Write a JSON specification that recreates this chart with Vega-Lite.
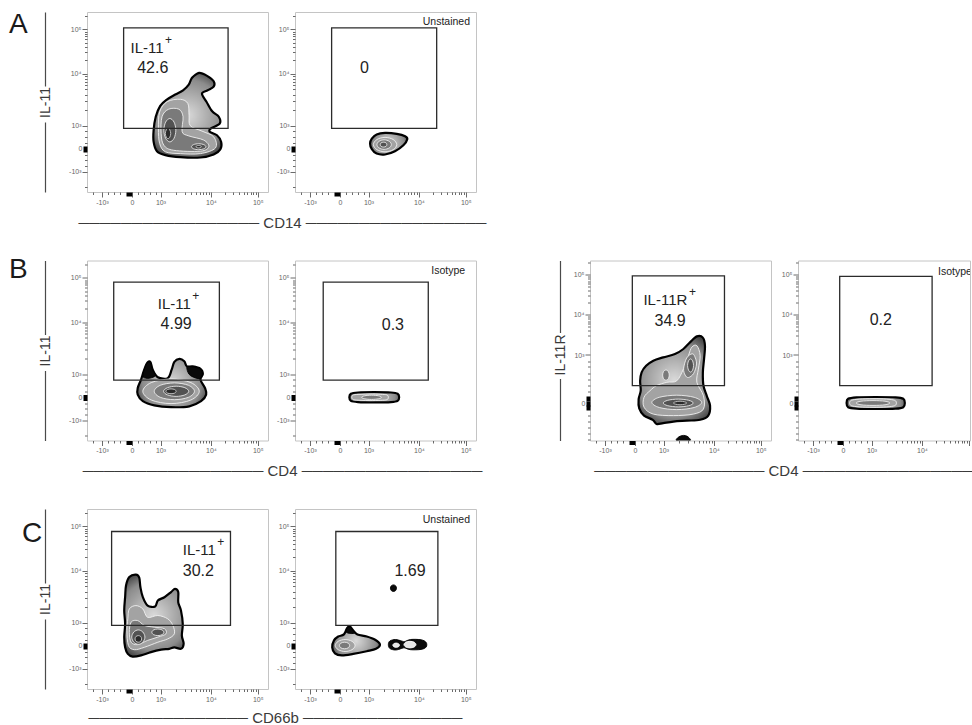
{
"$schema":"https://vega.github.io/schema/vega-lite/v6.json",
"background":"white",
"padding":{"left":8,"top":10,"right":0,"bottom":0},
"config":{
 "view":{"stroke":"#c4c4c4","strokeWidth":1},
 "font":"Liberation Sans",
 "axis":{"domain":false,"grid":false,"labelFont":"Liberation Sans, DejaVu Sans","labelFontSize":7,"labelColor":"#666","labelPadding":1,"labelOverlap":false,"labelFlush":false,"labelBound":false,"titleFont":"Liberation Sans, DejaVu Sans","titleFontSize":15,"titleFontWeight":"normal","titleColor":"#3a3a3a","titleLimit":2000},
 "text":{"font":"Liberation Sans, DejaVu Sans","color":"#222"}
},
"datasets":{
"A1":[
{"l":1,"p":"o","i":0,"x":2.03,"y":2.39},{"l":1,"p":"o","i":1,"x":2.24,"y":2.52},{"l":1,"p":"o","i":2,"x":2.5,"y":2.42},{"l":1,"p":"o","i":3,"x":2.72,"y":2.24},{"l":1,"p":"o","i":4,"x":2.72,"y":2.06},{"l":1,"p":"o","i":5,"x":2.52,"y":1.94},{"l":1,"p":"o","i":6,"x":2.33,"y":1.83},{"l":1,"p":"o","i":7,"x":2.48,"y":1.56},{"l":1,"p":"o","i":8,"x":2.67,"y":1.24},{"l":1,"p":"o","i":9,"x":2.89,"y":1.06},{"l":1,"p":"o","i":10,"x":2.92,"y":0.83},{"l":1,"p":"o","i":11,"x":2.63,"y":0.67},{"l":1,"p":"o","i":12,"x":2.59,"y":0.56},{"l":1,"p":"o","i":13,"x":2.83,"y":0.44},{"l":1,"p":"o","i":14,"x":2.97,"y":0.22},{"l":1,"p":"o","i":15,"x":2.94,"y":-0.03},{"l":1,"p":"o","i":16,"x":2.72,"y":-0.2},{"l":1,"p":"o","i":17,"x":2.28,"y":-0.3},{"l":1,"p":"o","i":18,"x":1.61,"y":-0.29},{"l":1,"p":"o","i":19,"x":1.11,"y":-0.22},{"l":1,"p":"o","i":20,"x":0.83,"y":-0.09},{"l":1,"p":"o","i":21,"x":0.72,"y":0.22},{"l":1,"p":"o","i":22,"x":0.72,"y":0.61},{"l":1,"p":"o","i":23,"x":0.79,"y":1.06},{"l":1,"p":"o","i":24,"x":0.94,"y":1.42},{"l":1,"p":"o","i":25,"x":1.17,"y":1.64},{"l":1,"p":"o","i":26,"x":1.44,"y":1.8},{"l":1,"p":"o","i":27,"x":1.7,"y":1.94},{"l":1,"p":"o","i":28,"x":1.89,"y":2.13},{"l":1,"p":"o","i":29,"x":1.97,"y":2.31},
{"l":2,"p":"b","i":0,"x":0.92,"y":1.22},{"l":2,"p":"b","i":1,"x":1.17,"y":1.56},{"l":2,"p":"b","i":2,"x":1.61,"y":1.64},{"l":2,"p":"b","i":3,"x":1.86,"y":1.5},{"l":2,"p":"b","i":4,"x":1.9,"y":1.11},{"l":2,"p":"b","i":5,"x":1.94,"y":0.76},{"l":2,"p":"b","i":6,"x":2.33,"y":0.58},{"l":2,"p":"b","i":7,"x":2.72,"y":0.39},{"l":2,"p":"b","i":8,"x":2.78,"y":0.02},{"l":2,"p":"b","i":9,"x":2.28,"y":-0.17},{"l":2,"p":"b","i":10,"x":1.61,"y":-0.17},{"l":2,"p":"b","i":11,"x":1.11,"y":-0.11},{"l":2,"p":"b","i":12,"x":0.92,"y":0.17},{"l":2,"p":"b","i":13,"x":0.88,"y":0.67},
{"l":3,"p":"c","i":0,"x":1.0,"y":1.06},{"l":3,"p":"c","i":1,"x":1.22,"y":1.31},{"l":3,"p":"c","i":2,"x":1.56,"y":1.31},{"l":3,"p":"c","i":3,"x":1.7,"y":1.06},{"l":3,"p":"c","i":4,"x":1.67,"y":0.56},{"l":3,"p":"c","i":5,"x":1.89,"y":0.42},{"l":3,"p":"c","i":6,"x":2.39,"y":0.28},{"l":3,"p":"c","i":7,"x":2.56,"y":0.06},{"l":3,"p":"c","i":8,"x":2.28,"y":-0.09},{"l":3,"p":"c","i":9,"x":1.39,"y":-0.06},{"l":3,"p":"c","i":10,"x":1.06,"y":0.11},{"l":3,"p":"c","i":11,"x":0.97,"y":0.5},
{"l":4,"p":"d","i":0,"x":1.46,"y":0.61},{"l":4,"p":"d","i":1,"x":1.4,"y":0.88},{"l":4,"p":"d","i":2,"x":1.26,"y":1.0},{"l":4,"p":"d","i":3,"x":1.12,"y":0.88},{"l":4,"p":"d","i":4,"x":1.06,"y":0.61},{"l":4,"p":"d","i":5,"x":1.12,"y":0.34},{"l":4,"p":"d","i":6,"x":1.26,"y":0.22},{"l":4,"p":"d","i":7,"x":1.4,"y":0.34},
{"l":4,"p":"e","i":0,"x":2.46,"y":0.06},{"l":4,"p":"e","i":1,"x":2.39,"y":0.13},{"l":4,"p":"e","i":2,"x":2.22,"y":0.16},{"l":4,"p":"e","i":3,"x":2.05,"y":0.13},{"l":4,"p":"e","i":4,"x":1.98,"y":0.06},{"l":4,"p":"e","i":5,"x":2.05,"y":-0.01},{"l":4,"p":"e","i":6,"x":2.22,"y":-0.04},{"l":4,"p":"e","i":7,"x":2.39,"y":-0.01},
{"l":5,"p":"f","i":0,"x":1.29,"y":0.5},{"l":5,"p":"f","i":1,"x":1.26,"y":0.62},{"l":5,"p":"f","i":2,"x":1.2,"y":0.67},{"l":5,"p":"f","i":3,"x":1.14,"y":0.62},{"l":5,"p":"f","i":4,"x":1.11,"y":0.5},{"l":5,"p":"f","i":5,"x":1.14,"y":0.38},{"l":5,"p":"f","i":6,"x":1.2,"y":0.33},{"l":5,"p":"f","i":7,"x":1.26,"y":0.38},
{"l":5,"p":"g","i":0,"x":2.31,"y":0.06},{"l":5,"p":"g","i":1,"x":2.28,"y":0.09},{"l":5,"p":"g","i":2,"x":2.22,"y":0.1},{"l":5,"p":"g","i":3,"x":2.16,"y":0.09},{"l":5,"p":"g","i":4,"x":2.13,"y":0.06},{"l":5,"p":"g","i":5,"x":2.16,"y":0.03},{"l":5,"p":"g","i":6,"x":2.22,"y":0.02},{"l":5,"p":"g","i":7,"x":2.28,"y":0.03},
{"k":"g","x":-0.28,"x2":3.2,"y":0.67,"y2":4.02},
{"k":"n","x":-0.05,"y":3.35,"t":"IL-11"},
{"k":"s","x":1.1,"y":3.62,"t":"+"},
{"k":"v","x":0.69,"y":2.67,"t":"42.6"}
],
"A2":[
{"l":1,"p":"o","i":0,"x":1.06,"y":0.33},{"l":1,"p":"o","i":1,"x":1.22,"y":0.47},{"l":1,"p":"o","i":2,"x":1.5,"y":0.52},{"l":1,"p":"o","i":3,"x":1.89,"y":0.49},{"l":1,"p":"o","i":4,"x":2.17,"y":0.41},{"l":1,"p":"o","i":5,"x":2.24,"y":0.31},{"l":1,"p":"o","i":6,"x":2.11,"y":0.11},{"l":1,"p":"o","i":7,"x":1.83,"y":-0.09},{"l":1,"p":"o","i":8,"x":1.5,"y":-0.2},{"l":1,"p":"o","i":9,"x":1.22,"y":-0.17},{"l":1,"p":"o","i":10,"x":1.06,"y":-0.02},{"l":1,"p":"o","i":11,"x":1.0,"y":0.17},
{"l":2,"p":"b","i":0,"x":1.89,"y":0.13},{"l":2,"p":"b","i":1,"x":1.77,"y":0.3},{"l":2,"p":"b","i":2,"x":1.5,"y":0.37},{"l":2,"p":"b","i":3,"x":1.23,"y":0.3},{"l":2,"p":"b","i":4,"x":1.11,"y":0.13},{"l":2,"p":"b","i":5,"x":1.23,"y":-0.04},{"l":2,"p":"b","i":6,"x":1.5,"y":-0.11},{"l":2,"p":"b","i":7,"x":1.77,"y":-0.04},
{"l":3,"p":"c","i":0,"x":1.71,"y":0.13},{"l":3,"p":"c","i":1,"x":1.64,"y":0.24},{"l":3,"p":"c","i":2,"x":1.47,"y":0.29},{"l":3,"p":"c","i":3,"x":1.3,"y":0.24},{"l":3,"p":"c","i":4,"x":1.23,"y":0.13},{"l":3,"p":"c","i":5,"x":1.3,"y":0.02},{"l":3,"p":"c","i":6,"x":1.47,"y":-0.03},{"l":3,"p":"c","i":7,"x":1.64,"y":0.02},
{"l":4,"p":"d","i":0,"x":1.56,"y":0.13},{"l":4,"p":"d","i":1,"x":1.53,"y":0.19},{"l":4,"p":"d","i":2,"x":1.45,"y":0.21},{"l":4,"p":"d","i":3,"x":1.37,"y":0.19},{"l":4,"p":"d","i":4,"x":1.34,"y":0.13},{"l":4,"p":"d","i":5,"x":1.37,"y":0.07},{"l":4,"p":"d","i":6,"x":1.45,"y":0.05},{"l":4,"p":"d","i":7,"x":1.53,"y":0.07},
{"k":"g","x":-0.28,"x2":3.22,"y":0.67,"y2":4.02},
{"k":"v","x":0.81,"y":2.67,"t":"0"},
{"k":"u","x":4.33,"y":4.22,"t":"Unstained"}
],
"B1":[
{"l":1,"p":"o","i":0,"x":0.19,"y":0.3},{"l":1,"p":"o","i":1,"x":0.3,"y":0.58},{"l":1,"p":"o","i":2,"x":0.39,"y":0.86},{"l":1,"p":"o","i":3,"x":0.5,"y":1.13},{"l":1,"p":"o","i":4,"x":0.61,"y":1.17},{"l":1,"p":"o","i":5,"x":0.69,"y":0.91},{"l":1,"p":"o","i":6,"x":0.86,"y":0.66},{"l":1,"p":"o","i":7,"x":1.19,"y":0.63},{"l":1,"p":"o","i":8,"x":1.32,"y":0.91},{"l":1,"p":"o","i":9,"x":1.41,"y":1.17},{"l":1,"p":"o","i":10,"x":1.58,"y":1.27},{"l":1,"p":"o","i":11,"x":1.74,"y":1.19},{"l":1,"p":"o","i":12,"x":1.83,"y":1.02},{"l":1,"p":"o","i":13,"x":2.02,"y":1.02},{"l":1,"p":"o","i":14,"x":2.28,"y":0.94},{"l":1,"p":"o","i":15,"x":2.36,"y":0.77},{"l":1,"p":"o","i":16,"x":2.28,"y":0.58},{"l":1,"p":"o","i":17,"x":2.43,"y":0.3},{"l":1,"p":"o","i":18,"x":2.47,"y":0.08},{"l":1,"p":"o","i":19,"x":2.3,"y":-0.14},{"l":1,"p":"o","i":20,"x":1.91,"y":-0.31},{"l":1,"p":"o","i":21,"x":1.3,"y":-0.34},{"l":1,"p":"o","i":22,"x":0.74,"y":-0.28},{"l":1,"p":"o","i":23,"x":0.36,"y":-0.14},{"l":1,"p":"o","i":24,"x":0.19,"y":0.08},
{"l":2,"p":"b","i":0,"x":2.24,"y":0.19},{"l":2,"p":"b","i":1,"x":1.96,"y":0.48},{"l":2,"p":"b","i":2,"x":1.3,"y":0.6},{"l":2,"p":"b","i":3,"x":0.64,"y":0.48},{"l":2,"p":"b","i":4,"x":0.36,"y":0.19},{"l":2,"p":"b","i":5,"x":0.64,"y":-0.1},{"l":2,"p":"b","i":6,"x":1.3,"y":-0.22},{"l":2,"p":"b","i":7,"x":1.96,"y":-0.1},
{"l":3,"p":"c","i":0,"x":2.08,"y":0.19},{"l":3,"p":"c","i":1,"x":1.88,"y":0.39},{"l":3,"p":"c","i":2,"x":1.41,"y":0.47},{"l":3,"p":"c","i":3,"x":0.94,"y":0.39},{"l":3,"p":"c","i":4,"x":0.74,"y":0.19},{"l":3,"p":"c","i":5,"x":0.94,"y":-0.01},{"l":3,"p":"c","i":6,"x":1.41,"y":-0.09},{"l":3,"p":"c","i":7,"x":1.88,"y":-0.01},
{"l":4,"p":"d","i":0,"x":1.89,"y":0.19},{"l":4,"p":"d","i":1,"x":1.76,"y":0.31},{"l":4,"p":"d","i":2,"x":1.47,"y":0.36},{"l":4,"p":"d","i":3,"x":1.18,"y":0.31},{"l":4,"p":"d","i":4,"x":1.05,"y":0.19},{"l":4,"p":"d","i":5,"x":1.18,"y":0.07},{"l":4,"p":"d","i":6,"x":1.47,"y":0.02},{"l":4,"p":"d","i":7,"x":1.76,"y":0.07},
{"l":5,"p":"f","i":0,"x":1.47,"y":0.19},{"l":5,"p":"f","i":1,"x":1.42,"y":0.25},{"l":5,"p":"f","i":2,"x":1.3,"y":0.27},{"l":5,"p":"f","i":3,"x":1.18,"y":0.25},{"l":5,"p":"f","i":4,"x":1.13,"y":0.19},{"l":5,"p":"f","i":5,"x":1.18,"y":0.13},{"l":5,"p":"f","i":6,"x":1.3,"y":0.11},{"l":5,"p":"f","i":7,"x":1.42,"y":0.13},
{"l":8,"p":"k","i":0,"x":0.36,"y":0.7},{"l":8,"p":"k","i":1,"x":0.42,"y":0.95},{"l":8,"p":"k","i":2,"x":0.5,"y":1.12},{"l":8,"p":"k","i":3,"x":0.6,"y":1.15},{"l":8,"p":"k","i":4,"x":0.68,"y":0.91},{"l":8,"p":"k","i":5,"x":0.78,"y":0.72},{"l":8,"p":"k","i":6,"x":0.6,"y":0.63},{"l":8,"p":"k","i":7,"x":0.45,"y":0.63},
{"l":8,"p":"m","i":0,"x":1.83,"y":1.0},{"l":8,"p":"m","i":1,"x":2.02,"y":1.0},{"l":8,"p":"m","i":2,"x":2.27,"y":0.93},{"l":8,"p":"m","i":3,"x":2.34,"y":0.77},{"l":8,"p":"m","i":4,"x":2.27,"y":0.62},{"l":8,"p":"m","i":5,"x":2.1,"y":0.64},{"l":8,"p":"m","i":6,"x":1.9,"y":0.76},
{"k":"g","x":-0.61,"x2":2.91,"y":0.56,"y2":3.83},
{"k":"n","x":0.86,"y":3.1,"t":"IL-11"},
{"k":"s","x":2.01,"y":3.37,"t":"+"},
{"k":"v","x":1.47,"y":2.43,"t":"4.99"}
],
"B2":[
{"l":1,"p":"o","i":0,"x":0.31,"y":-0.01},{"l":1,"p":"o","i":1,"x":0.36,"y":0.11},{"l":1,"p":"o","i":2,"x":0.6,"y":0.15},{"l":1,"p":"o","i":3,"x":1.14,"y":0.16},{"l":1,"p":"o","i":4,"x":1.7,"y":0.15},{"l":1,"p":"o","i":5,"x":1.92,"y":0.11},{"l":1,"p":"o","i":6,"x":1.97,"y":-0.01},{"l":1,"p":"o","i":7,"x":1.92,"y":-0.13},{"l":1,"p":"o","i":8,"x":1.7,"y":-0.17},{"l":1,"p":"o","i":9,"x":1.14,"y":-0.18},{"l":1,"p":"o","i":10,"x":0.6,"y":-0.17},{"l":1,"p":"o","i":11,"x":0.36,"y":-0.13},
{"l":2,"p":"b","i":0,"x":0.39,"y":-0.01},{"l":2,"p":"b","i":1,"x":0.45,"y":0.07},{"l":2,"p":"b","i":2,"x":0.7,"y":0.09},{"l":2,"p":"b","i":3,"x":1.0,"y":0.1},{"l":2,"p":"b","i":4,"x":1.35,"y":0.09},{"l":2,"p":"b","i":5,"x":1.56,"y":0.07},{"l":2,"p":"b","i":6,"x":1.61,"y":-0.01},{"l":2,"p":"b","i":7,"x":1.56,"y":-0.09},{"l":2,"p":"b","i":8,"x":1.35,"y":-0.11},{"l":2,"p":"b","i":9,"x":1.0,"y":-0.12},{"l":2,"p":"b","i":10,"x":0.7,"y":-0.11},{"l":2,"p":"b","i":11,"x":0.45,"y":-0.09},
{"l":3,"p":"c","i":0,"x":1.38,"y":-0.01},{"l":3,"p":"c","i":1,"x":1.28,"y":0.04},{"l":3,"p":"c","i":2,"x":1.05,"y":0.06},{"l":3,"p":"c","i":3,"x":0.82,"y":0.04},{"l":3,"p":"c","i":4,"x":0.72,"y":-0.01},{"l":3,"p":"c","i":5,"x":0.82,"y":-0.06},{"l":3,"p":"c","i":6,"x":1.05,"y":-0.08},{"l":3,"p":"c","i":7,"x":1.28,"y":-0.06},
{"k":"g","x":-0.56,"x2":2.94,"y":0.56,"y2":3.83},
{"k":"v","x":1.76,"y":2.41,"t":"0.3"},
{"k":"u","x":4.17,"y":4.19,"t":"Isotype"}
],
"B3":[
{"l":1,"p":"o","i":0,"x":2.06,"y":2.22},{"l":1,"p":"o","i":1,"x":2.26,"y":2.18},{"l":1,"p":"o","i":2,"x":2.33,"y":1.91},{"l":1,"p":"o","i":3,"x":2.3,"y":1.47},{"l":1,"p":"o","i":4,"x":2.26,"y":1.02},{"l":1,"p":"o","i":5,"x":2.28,"y":0.58},{"l":1,"p":"o","i":6,"x":2.39,"y":0.24},{"l":1,"p":"o","i":7,"x":2.5,"y":-0.09},{"l":1,"p":"o","i":8,"x":2.44,"y":-0.42},{"l":1,"p":"o","i":9,"x":2.17,"y":-0.56},{"l":1,"p":"o","i":10,"x":1.72,"y":-0.59},{"l":1,"p":"o","i":11,"x":1.28,"y":-0.62},{"l":1,"p":"o","i":12,"x":0.94,"y":-0.67},{"l":1,"p":"o","i":13,"x":0.72,"y":-0.7},{"l":1,"p":"o","i":14,"x":0.59,"y":-0.56},{"l":1,"p":"o","i":15,"x":0.3,"y":-0.42},{"l":1,"p":"o","i":16,"x":0.14,"y":-0.18},{"l":1,"p":"o","i":17,"x":0.12,"y":0.13},{"l":1,"p":"o","i":18,"x":0.19,"y":0.41},{"l":1,"p":"o","i":19,"x":0.17,"y":0.74},{"l":1,"p":"o","i":20,"x":0.22,"y":1.02},{"l":1,"p":"o","i":21,"x":0.37,"y":1.24},{"l":1,"p":"o","i":22,"x":0.61,"y":1.41},{"l":1,"p":"o","i":23,"x":0.94,"y":1.52},{"l":1,"p":"o","i":24,"x":1.33,"y":1.63},{"l":1,"p":"o","i":25,"x":1.61,"y":1.8},{"l":1,"p":"o","i":26,"x":1.83,"y":2.02},
{"l":2,"p":"b","i":0,"x":2.06,"y":1.91},{"l":2,"p":"b","i":1,"x":2.17,"y":1.58},{"l":2,"p":"b","i":2,"x":2.11,"y":1.13},{"l":2,"p":"b","i":3,"x":2.06,"y":0.69},{"l":2,"p":"b","i":4,"x":2.28,"y":0.24},{"l":2,"p":"b","i":5,"x":2.28,"y":-0.2},{"l":2,"p":"b","i":6,"x":1.94,"y":-0.37},{"l":2,"p":"b","i":7,"x":1.28,"y":-0.42},{"l":2,"p":"b","i":8,"x":0.61,"y":-0.37},{"l":2,"p":"b","i":9,"x":0.3,"y":-0.14},{"l":2,"p":"b","i":10,"x":0.3,"y":0.19},{"l":2,"p":"b","i":11,"x":0.5,"y":0.41},{"l":2,"p":"b","i":12,"x":0.72,"y":0.58},{"l":2,"p":"b","i":13,"x":1.06,"y":0.69},{"l":2,"p":"b","i":14,"x":1.39,"y":0.74},{"l":2,"p":"b","i":15,"x":1.61,"y":1.13},{"l":2,"p":"b","i":16,"x":1.78,"y":1.58},{"l":2,"p":"b","i":17,"x":1.89,"y":1.86},
{"l":3,"p":"c","i":0,"x":2.22,"y":0.02},{"l":3,"p":"c","i":1,"x":1.97,"y":0.19},{"l":3,"p":"c","i":2,"x":1.39,"y":0.26},{"l":3,"p":"c","i":3,"x":0.81,"y":0.19},{"l":3,"p":"c","i":4,"x":0.56,"y":0.02},{"l":3,"p":"c","i":5,"x":0.81,"y":-0.15},{"l":3,"p":"c","i":6,"x":1.39,"y":-0.22},{"l":3,"p":"c","i":7,"x":1.97,"y":-0.15},
{"l":3,"p":"h","i":0,"x":2.05,"y":1.3},{"l":3,"p":"h","i":1,"x":1.99,"y":1.55},{"l":3,"p":"h","i":2,"x":1.9,"y":1.64},{"l":3,"p":"h","i":3,"x":1.72,"y":1.5},{"l":3,"p":"h","i":4,"x":1.62,"y":1.15},{"l":3,"p":"h","i":5,"x":1.67,"y":0.93},{"l":3,"p":"h","i":6,"x":1.78,"y":0.85},{"l":3,"p":"h","i":7,"x":1.95,"y":0.98},
{"l":3,"p":"j","i":0,"x":1.14,"y":0.93},{"l":3,"p":"j","i":1,"x":1.11,"y":1.05},{"l":3,"p":"j","i":2,"x":1.03,"y":1.1},{"l":3,"p":"j","i":3,"x":0.95,"y":1.05},{"l":3,"p":"j","i":4,"x":0.92,"y":0.93},{"l":3,"p":"j","i":5,"x":0.95,"y":0.81},{"l":3,"p":"j","i":6,"x":1.03,"y":0.76},{"l":3,"p":"j","i":7,"x":1.11,"y":0.81},
{"l":4,"p":"d","i":0,"x":1.94,"y":0.0},{"l":4,"p":"d","i":1,"x":1.79,"y":0.09},{"l":4,"p":"d","i":2,"x":1.44,"y":0.13},{"l":4,"p":"d","i":3,"x":1.09,"y":0.09},{"l":4,"p":"d","i":4,"x":0.94,"y":0.0},{"l":4,"p":"d","i":5,"x":1.09,"y":-0.09},{"l":4,"p":"d","i":6,"x":1.44,"y":-0.13},{"l":4,"p":"d","i":7,"x":1.79,"y":-0.09},
{"l":4,"p":"e","i":0,"x":1.95,"y":1.25},{"l":4,"p":"e","i":1,"x":1.92,"y":1.4},{"l":4,"p":"e","i":2,"x":1.85,"y":1.47},{"l":4,"p":"e","i":3,"x":1.78,"y":1.4},{"l":4,"p":"e","i":4,"x":1.75,"y":1.25},{"l":4,"p":"e","i":5,"x":1.78,"y":1.1},{"l":4,"p":"e","i":6,"x":1.85,"y":1.03},{"l":4,"p":"e","i":7,"x":1.92,"y":1.1},
{"l":5,"p":"f","i":0,"x":1.72,"y":0.0},{"l":5,"p":"f","i":1,"x":1.65,"y":0.04},{"l":5,"p":"f","i":2,"x":1.5,"y":0.06},{"l":5,"p":"f","i":3,"x":1.35,"y":0.04},{"l":5,"p":"f","i":4,"x":1.28,"y":0.0},{"l":5,"p":"f","i":5,"x":1.35,"y":-0.04},{"l":5,"p":"f","i":6,"x":1.5,"y":-0.06},{"l":5,"p":"f","i":7,"x":1.65,"y":-0.04},
{"l":8,"p":"z","i":0,"x":1.38,"y":-1.25},{"l":8,"p":"z","i":1,"x":1.42,"y":-1.16},{"l":8,"p":"z","i":2,"x":1.52,"y":-1.1},{"l":8,"p":"z","i":3,"x":1.62,"y":-1.08},{"l":8,"p":"z","i":4,"x":1.72,"y":-1.1},{"l":8,"p":"z","i":5,"x":1.8,"y":-1.16},{"l":8,"p":"z","i":6,"x":1.84,"y":-1.25},{"l":8,"p":"z","i":7,"x":1.61,"y":-1.3},
{"k":"g","x":-0.09,"x2":2.98,"y":0.58,"y2":4.24},
{"k":"n","x":0.28,"y":3.44,"t":"IL-11R"},
{"k":"s","x":1.8,"y":3.71,"t":"+"},
{"k":"v","x":1.17,"y":2.74,"t":"34.9"}
],
"B4":[
{"l":1,"p":"o","i":0,"x":0.12,"y":0.0},{"l":1,"p":"o","i":1,"x":0.17,"y":0.14},{"l":1,"p":"o","i":2,"x":0.45,"y":0.19},{"l":1,"p":"o","i":3,"x":1.09,"y":0.2},{"l":1,"p":"o","i":4,"x":1.75,"y":0.19},{"l":1,"p":"o","i":5,"x":2.01,"y":0.14},{"l":1,"p":"o","i":6,"x":2.06,"y":0.0},{"l":1,"p":"o","i":7,"x":2.01,"y":-0.14},{"l":1,"p":"o","i":8,"x":1.75,"y":-0.19},{"l":1,"p":"o","i":9,"x":1.09,"y":-0.2},{"l":1,"p":"o","i":10,"x":0.45,"y":-0.19},{"l":1,"p":"o","i":11,"x":0.17,"y":-0.14},
{"l":2,"p":"b","i":0,"x":0.22,"y":0.0},{"l":2,"p":"b","i":1,"x":0.28,"y":0.09},{"l":2,"p":"b","i":2,"x":0.55,"y":0.13},{"l":2,"p":"b","i":3,"x":1.0,"y":0.14},{"l":2,"p":"b","i":4,"x":1.45,"y":0.13},{"l":2,"p":"b","i":5,"x":1.72,"y":0.09},{"l":2,"p":"b","i":6,"x":1.78,"y":0.0},{"l":2,"p":"b","i":7,"x":1.72,"y":-0.09},{"l":2,"p":"b","i":8,"x":1.45,"y":-0.13},{"l":2,"p":"b","i":9,"x":1.0,"y":-0.14},{"l":2,"p":"b","i":10,"x":0.55,"y":-0.13},{"l":2,"p":"b","i":11,"x":0.28,"y":-0.09},
{"l":3,"p":"c","i":0,"x":1.56,"y":0.0},{"l":3,"p":"c","i":1,"x":1.4,"y":0.06},{"l":3,"p":"c","i":2,"x":1.0,"y":0.08},{"l":3,"p":"c","i":3,"x":0.6,"y":0.06},{"l":3,"p":"c","i":4,"x":0.44,"y":0.0},{"l":3,"p":"c","i":5,"x":0.6,"y":-0.06},{"l":3,"p":"c","i":6,"x":1.0,"y":-0.08},{"l":3,"p":"c","i":7,"x":1.4,"y":-0.06},
{"k":"g","x":-0.11,"x2":2.97,"y":0.58,"y2":4.22},
{"k":"v","x":1.26,"y":2.78,"t":"0.2"},
{"k":"w","x":3.17,"y":4.36,"t":"Isotype"}
],
"C1":[
{"l":1,"p":"o","i":0,"x":-0.09,"y":2.28},{"l":1,"p":"o","i":1,"x":0.13,"y":2.36},{"l":1,"p":"o","i":2,"x":0.24,"y":2.26},{"l":1,"p":"o","i":3,"x":0.28,"y":1.94},{"l":1,"p":"o","i":4,"x":0.36,"y":1.61},{"l":1,"p":"o","i":5,"x":0.52,"y":1.33},{"l":1,"p":"o","i":6,"x":0.77,"y":1.3},{"l":1,"p":"o","i":7,"x":0.86,"y":1.5},{"l":1,"p":"o","i":8,"x":1.08,"y":1.61},{"l":1,"p":"o","i":9,"x":1.3,"y":1.78},{"l":1,"p":"o","i":10,"x":1.43,"y":1.89},{"l":1,"p":"o","i":11,"x":1.54,"y":1.78},{"l":1,"p":"o","i":12,"x":1.54,"y":1.44},{"l":1,"p":"o","i":13,"x":1.63,"y":1.17},{"l":1,"p":"o","i":14,"x":1.69,"y":0.72},{"l":1,"p":"o","i":15,"x":1.66,"y":0.33},{"l":1,"p":"o","i":16,"x":1.72,"y":0.06},{"l":1,"p":"o","i":17,"x":1.63,"y":-0.11},{"l":1,"p":"o","i":18,"x":1.41,"y":-0.06},{"l":1,"p":"o","i":19,"x":1.24,"y":-0.11},{"l":1,"p":"o","i":20,"x":0.97,"y":-0.14},{"l":1,"p":"o","i":21,"x":0.63,"y":-0.22},{"l":1,"p":"o","i":22,"x":0.3,"y":-0.33},{"l":1,"p":"o","i":23,"x":0.02,"y":-0.37},{"l":1,"p":"o","i":24,"x":-0.14,"y":-0.28},{"l":1,"p":"o","i":25,"x":-0.23,"y":-0.06},{"l":1,"p":"o","i":26,"x":-0.26,"y":0.28},{"l":1,"p":"o","i":27,"x":-0.23,"y":0.72},{"l":1,"p":"o","i":28,"x":-0.26,"y":1.17},{"l":1,"p":"o","i":29,"x":-0.23,"y":1.61},{"l":1,"p":"o","i":30,"x":-0.2,"y":2.0},
{"l":2,"p":"b","i":0,"x":-0.09,"y":1.22},{"l":2,"p":"b","i":1,"x":0.13,"y":1.33},{"l":2,"p":"b","i":2,"x":0.36,"y":1.22},{"l":2,"p":"b","i":3,"x":0.52,"y":0.94},{"l":2,"p":"b","i":4,"x":0.86,"y":1.0},{"l":2,"p":"b","i":5,"x":1.19,"y":0.89},{"l":2,"p":"b","i":6,"x":1.36,"y":0.67},{"l":2,"p":"b","i":7,"x":1.41,"y":0.39},{"l":2,"p":"b","i":8,"x":1.19,"y":0.22},{"l":2,"p":"b","i":9,"x":0.86,"y":0.11},{"l":2,"p":"b","i":10,"x":0.41,"y":-0.06},{"l":2,"p":"b","i":11,"x":0.08,"y":-0.14},{"l":2,"p":"b","i":12,"x":-0.12,"y":0.0},{"l":2,"p":"b","i":13,"x":-0.17,"y":0.5},{"l":2,"p":"b","i":14,"x":-0.14,"y":0.89},
{"l":3,"p":"c","i":0,"x":-0.03,"y":0.78},{"l":3,"p":"c","i":1,"x":0.19,"y":0.83},{"l":3,"p":"c","i":2,"x":0.41,"y":0.67},{"l":3,"p":"c","i":3,"x":0.74,"y":0.61},{"l":3,"p":"c","i":4,"x":1.08,"y":0.56},{"l":3,"p":"c","i":5,"x":1.13,"y":0.39},{"l":3,"p":"c","i":6,"x":0.86,"y":0.28},{"l":3,"p":"c","i":7,"x":0.52,"y":0.17},{"l":3,"p":"c","i":8,"x":0.19,"y":0.03},{"l":3,"p":"c","i":9,"x":-0.03,"y":0.11},{"l":3,"p":"c","i":10,"x":-0.09,"y":0.44},
{"l":4,"p":"d","i":0,"x":0.43,"y":0.28},{"l":4,"p":"d","i":1,"x":0.36,"y":0.45},{"l":4,"p":"d","i":2,"x":0.21,"y":0.52},{"l":4,"p":"d","i":3,"x":0.06,"y":0.45},{"l":4,"p":"d","i":4,"x":-0.01,"y":0.28},{"l":4,"p":"d","i":5,"x":0.06,"y":0.11},{"l":4,"p":"d","i":6,"x":0.21,"y":0.04},{"l":4,"p":"d","i":7,"x":0.36,"y":0.11},
{"l":4,"p":"e","i":0,"x":1.06,"y":0.44},{"l":4,"p":"e","i":1,"x":1.0,"y":0.52},{"l":4,"p":"e","i":2,"x":0.86,"y":0.55},{"l":4,"p":"e","i":3,"x":0.72,"y":0.52},{"l":4,"p":"e","i":4,"x":0.66,"y":0.44},{"l":4,"p":"e","i":5,"x":0.72,"y":0.36},{"l":4,"p":"e","i":6,"x":0.86,"y":0.33},{"l":4,"p":"e","i":7,"x":1.0,"y":0.36},
{"l":5,"p":"f","i":0,"x":0.32,"y":0.22},{"l":5,"p":"f","i":1,"x":0.29,"y":0.3},{"l":5,"p":"f","i":2,"x":0.21,"y":0.33},{"l":5,"p":"f","i":3,"x":0.13,"y":0.3},{"l":5,"p":"f","i":4,"x":0.1,"y":0.22},{"l":5,"p":"f","i":5,"x":0.13,"y":0.14},{"l":5,"p":"f","i":6,"x":0.21,"y":0.11},{"l":5,"p":"f","i":7,"x":0.29,"y":0.14},
{"k":"g","x":-0.68,"x2":3.28,"y":0.67,"y2":3.8},
{"k":"n","x":1.69,"y":3.17,"t":"IL-11"},
{"k":"s","x":2.84,"y":3.44,"t":"+"},
{"k":"v","x":2.21,"y":2.47,"t":"30.2"}
],
"C2":[
{"l":1,"p":"o","i":0,"x":-0.2,"y":0.17},{"l":1,"p":"o","i":1,"x":-0.06,"y":0.3},{"l":1,"p":"o","i":2,"x":0.13,"y":0.37},{"l":1,"p":"o","i":3,"x":0.24,"y":0.59},{"l":1,"p":"o","i":4,"x":0.33,"y":0.63},{"l":1,"p":"o","i":5,"x":0.44,"y":0.5},{"l":1,"p":"o","i":6,"x":0.58,"y":0.37},{"l":1,"p":"o","i":7,"x":0.89,"y":0.3},{"l":1,"p":"o","i":8,"x":1.17,"y":0.19},{"l":1,"p":"o","i":9,"x":1.33,"y":0.03},{"l":1,"p":"o","i":10,"x":1.2,"y":-0.11},{"l":1,"p":"o","i":11,"x":0.89,"y":-0.19},{"l":1,"p":"o","i":12,"x":0.44,"y":-0.28},{"l":1,"p":"o","i":13,"x":0.06,"y":-0.33},{"l":1,"p":"o","i":14,"x":-0.17,"y":-0.26},{"l":1,"p":"o","i":15,"x":-0.26,"y":-0.06},
{"l":2,"p":"b","i":0,"x":0.5,"y":0.0},{"l":2,"p":"b","i":1,"x":0.4,"y":0.14},{"l":2,"p":"b","i":2,"x":0.17,"y":0.2},{"l":2,"p":"b","i":3,"x":-0.06,"y":0.14},{"l":2,"p":"b","i":4,"x":-0.16,"y":0.0},{"l":2,"p":"b","i":5,"x":-0.06,"y":-0.14},{"l":2,"p":"b","i":6,"x":0.17,"y":-0.2},{"l":2,"p":"b","i":7,"x":0.4,"y":-0.14},
{"l":3,"p":"c","i":0,"x":0.32,"y":0.0},{"l":3,"p":"c","i":1,"x":0.27,"y":0.08},{"l":3,"p":"c","i":2,"x":0.15,"y":0.11},{"l":3,"p":"c","i":3,"x":0.03,"y":0.08},{"l":3,"p":"c","i":4,"x":-0.02,"y":0.0},{"l":3,"p":"c","i":5,"x":0.03,"y":-0.08},{"l":3,"p":"c","i":6,"x":0.15,"y":-0.11},{"l":3,"p":"c","i":7,"x":0.27,"y":-0.08},
{"l":8,"p":"q","i":0,"x":0.2,"y":0.45},{"l":8,"p":"q","i":1,"x":0.24,"y":0.58},{"l":8,"p":"q","i":2,"x":0.33,"y":0.62},{"l":8,"p":"q","i":3,"x":0.43,"y":0.5},{"l":8,"p":"q","i":4,"x":0.5,"y":0.42},{"l":8,"p":"q","i":5,"x":0.35,"y":0.4},
{"l":8,"p":"r","i":0,"x":1.61,"y":0.03},{"l":8,"p":"r","i":1,"x":1.66,"y":0.15},{"l":8,"p":"r","i":2,"x":1.85,"y":0.2},{"l":8,"p":"r","i":3,"x":2.05,"y":0.15},{"l":8,"p":"r","i":4,"x":2.15,"y":0.13},{"l":8,"p":"r","i":5,"x":2.35,"y":0.2},{"l":8,"p":"r","i":6,"x":2.7,"y":0.19},{"l":8,"p":"r","i":7,"x":2.87,"y":0.1},{"l":8,"p":"r","i":8,"x":2.87,"y":-0.05},{"l":8,"p":"r","i":9,"x":2.7,"y":-0.13},{"l":8,"p":"r","i":10,"x":2.35,"y":-0.14},{"l":8,"p":"r","i":11,"x":2.15,"y":-0.08},{"l":8,"p":"r","i":12,"x":2.05,"y":-0.1},{"l":8,"p":"r","i":13,"x":1.85,"y":-0.15},{"l":8,"p":"r","i":14,"x":1.66,"y":-0.1},
{"l":8,"p":"s","i":0,"x":1.88,"y":1.91},{"l":8,"p":"s","i":1,"x":1.85,"y":1.99},{"l":8,"p":"s","i":2,"x":1.78,"y":2.02},{"l":8,"p":"s","i":3,"x":1.71,"y":1.99},{"l":8,"p":"s","i":4,"x":1.68,"y":1.91},{"l":8,"p":"s","i":5,"x":1.71,"y":1.83},{"l":8,"p":"s","i":6,"x":1.78,"y":1.8},{"l":8,"p":"s","i":7,"x":1.85,"y":1.83},
{"l":9,"p":"t","i":0,"x":2.53,"y":0.03},{"l":9,"p":"t","i":1,"x":2.47,"y":0.11},{"l":9,"p":"t","i":2,"x":2.33,"y":0.14},{"l":9,"p":"t","i":3,"x":2.19,"y":0.11},{"l":9,"p":"t","i":4,"x":2.13,"y":0.03},{"l":9,"p":"t","i":5,"x":2.19,"y":-0.05},{"l":9,"p":"t","i":6,"x":2.33,"y":-0.08},{"l":9,"p":"t","i":7,"x":2.47,"y":-0.05},
{"l":9,"p":"u","i":0,"x":1.98,"y":0.01},{"l":9,"p":"u","i":1,"x":1.95,"y":0.06},{"l":9,"p":"u","i":2,"x":1.87,"y":0.08},{"l":9,"p":"u","i":3,"x":1.79,"y":0.06},{"l":9,"p":"u","i":4,"x":1.76,"y":0.01},{"l":9,"p":"u","i":5,"x":1.79,"y":-0.04},{"l":9,"p":"u","i":6,"x":1.87,"y":-0.06},{"l":9,"p":"u","i":7,"x":1.95,"y":-0.04},
{"k":"g","x":-0.14,"x2":3.26,"y":0.67,"y2":3.8},
{"k":"v","x":2.33,"y":2.48,"t":"1.69"},
{"k":"u","x":4.33,"y":4.17,"t":"Unstained"}
]
},
"concat":[
 {"width":181,"height":180,"data":{"name":"A1"},
  "title":{"text":"A","anchor":"start","frame":"group","fontSize":28,"fontWeight":"normal","font":"Liberation Sans","color":"#1a1a1a","offset":0,"dx":-78,"dy":27,"baseline":"top"},
  "resolve":{"axis":{"y":"independent"}},
  "encoding":{
   "x":{"field":"x","type":"quantitative","scale":{"domain":[-1.5,4.53],"nice":false,"zero":false},"axis":{"values":[-1.3,-1,-0.8,-0.6,-0.4,-0.1,0,0.2,0.4,0.6,0.8,0.95,1.46,1.75,1.96,2.12,2.26,2.37,2.47,2.55,2.63,3.1,3.37,3.57,3.72,3.84,3.95,4.04,4.12,4.19],"labelExpr":"datum.value==-1?'-10³':datum.value==0?'0':datum.value==0.95?'10³':datum.value==2.63?'10⁴':datum.value==4.19?'10⁵':''","tickSize":{"condition":[{"test":"datum.value==-0.1","value":4},{"test":"indexof([-1,0,0.95,2.63,4.19],datum.value)>=0","value":5}],"value":2.5},"tickWidth":{"condition":{"test":"datum.value==-0.1","value":6},"value":0.8},"tickColor":{"condition":{"test":"datum.value==-0.1","value":"#000"},"value":"#444"},"title":"───────────────── CD14 ─────────────────","titleX":195,"titleY":30,"titleAlign":"center","titleBaseline":"middle"}},
   "y":{"field":"y","type":"quantitative","scale":{"domain":[-1.45,4.55],"nice":false,"zero":false},"axis":null}
  },
  "layer":[
   {"transform":[{"filter":"datum.l==1"}],"mark":{"type":"line","interpolate":"cardinal-closed","clip":true,"fill":{"gradient":"radial","x1":0.5,"y1":0.5,"x2":0.5,"y2":0.5,"r1":0,"r2":0.6,"stops":[{"offset":0,"color":"#dadada"},{"offset":0.7,"color":"#8c8c8c"},{"offset":1,"color":"#303030"}]},"stroke":"#000","strokeWidth":2.2},"encoding":{"y":{"field":"y","type":"quantitative","scale":{"domain":[-1.45,4.55],"nice":false,"zero":false},"axis":{"orient":"left","values":[-1.28,-0.78,-0.58,-0.39,-0.2,0,0.19,0.38,0.57,0.76,1.28,1.59,1.8,1.97,2.11,2.22,2.32,2.41,2.49,2.94,3.2,3.38,3.52,3.64,3.74,3.83,3.9,3.97,4.42],"labelExpr":"datum.value==-0.78?'-10³':datum.value==0?'0':datum.value==0.76?'10³':datum.value==2.49?'10⁴':datum.value==3.97?'10⁵':''","tickSize":{"condition":[{"test":"datum.value==0","value":4},{"test":"indexof([-0.78,0.76,2.49,3.97],datum.value)>=0","value":5}],"value":2.5},"tickWidth":{"condition":{"test":"datum.value==0","value":6},"value":0.8},"tickColor":{"condition":{"test":"datum.value==0","value":"#000"},"value":"#444"},"title":null}},"detail":{"field":"p"},"order":{"field":"i","type":"quantitative"}}},
   {"transform":[{"filter":"datum.l>1"}],"mark":{"type":"line","interpolate":"cardinal-closed","clip":true,"strokeWidth":0.9},"encoding":{"detail":{"field":"p"},"order":{"field":"i","type":"quantitative"},"fill":{"field":"l","type":"ordinal","scale":{"domain":[2,3,4,5,8,9],"range":["#a3a3a3","#7a7a7a","#525252","#2a2a2a","#0a0a0a","#e6e6e6"]},"legend":null},"stroke":{"field":"l","type":"ordinal","scale":{"domain":[2,3,4,5,8,9],"range":["#f2f2f2","#eeeeee","#e6e6e6","#cccccc","#000000","#ffffff"]},"legend":null}}},
   {"transform":[{"filter":"datum.k=='g'"}],"mark":{"type":"rect","filled":false,"stroke":"#2b2b2b","strokeWidth":1.3},"encoding":{"y":{"field":"y","type":"quantitative","scale":{"domain":[-1.45,4.55],"nice":false,"zero":false},"axis":{"orient":"left","offset":42,"domain":true,"domainColor":"#4a4a4a","domainWidth":1.2,"domainDash":[70,36,80],"ticks":false,"labels":false,"title":"IL-11","titleFontSize":14,"titleX":0,"titleY":90,"titleAngle":270,"titleAlign":"center","titleBaseline":"middle"}},"x2":{"field":"x2"},"y2":{"field":"y2"}}},
   {"transform":[{"filter":"datum.k=='n'"}],"mark":{"type":"text","align":"left","baseline":"middle","fontSize":15},"encoding":{"text":{"field":"t"}}},
   {"transform":[{"filter":"datum.k=='s'"}],"mark":{"type":"text","align":"left","baseline":"middle","fontSize":12},"encoding":{"text":{"field":"t"}}},
   {"transform":[{"filter":"datum.k=='v'"}],"mark":{"type":"text","align":"center","baseline":"middle","fontSize":16},"encoding":{"text":{"field":"t"}}}
  ]},
 {"width":181,"height":180,"data":{"name":"A2"},
  "encoding":{
   "x":{"field":"x","type":"quantitative","scale":{"domain":[-1.5,4.53],"nice":false,"zero":false},"axis":{"values":[-1.3,-1,-0.8,-0.6,-0.4,-0.1,0,0.2,0.4,0.6,0.8,0.95,1.46,1.75,1.96,2.12,2.26,2.37,2.47,2.55,2.63,3.1,3.37,3.57,3.72,3.84,3.95,4.04,4.12,4.19],"labelExpr":"datum.value==-1?'-10³':datum.value==0?'0':datum.value==0.95?'10³':datum.value==2.63?'10⁴':datum.value==4.19?'10⁵':''","tickSize":{"condition":[{"test":"datum.value==-0.1","value":4},{"test":"indexof([-1,0,0.95,2.63,4.19],datum.value)>=0","value":5}],"value":2.5},"tickWidth":{"condition":{"test":"datum.value==-0.1","value":6},"value":0.8},"tickColor":{"condition":{"test":"datum.value==-0.1","value":"#000"},"value":"#444"},"title":null}},
   "y":{"field":"y","type":"quantitative","scale":{"domain":[-1.45,4.55],"nice":false,"zero":false},"axis":{"values":[-1.28,-0.78,-0.58,-0.39,-0.2,0,0.19,0.38,0.57,0.76,1.28,1.59,1.8,1.97,2.11,2.22,2.32,2.41,2.49,2.94,3.2,3.38,3.52,3.64,3.74,3.83,3.9,3.97,4.42],"labelExpr":"datum.value==-0.78?'-10³':datum.value==0?'0':datum.value==0.76?'10³':datum.value==2.49?'10⁴':datum.value==3.97?'10⁵':''","tickSize":{"condition":[{"test":"datum.value==0","value":4},{"test":"indexof([-0.78,0.76,2.49,3.97],datum.value)>=0","value":5}],"value":2.5},"tickWidth":{"condition":{"test":"datum.value==0","value":6},"value":0.8},"tickColor":{"condition":{"test":"datum.value==0","value":"#000"},"value":"#444"},"title":null}}
  },
  "layer":[
   {"transform":[{"filter":"datum.l==1"}],"mark":{"type":"line","interpolate":"cardinal-closed","clip":true,"fill":{"gradient":"radial","x1":0.5,"y1":0.5,"x2":0.5,"y2":0.5,"r1":0,"r2":0.6,"stops":[{"offset":0,"color":"#dadada"},{"offset":0.7,"color":"#8c8c8c"},{"offset":1,"color":"#303030"}]},"stroke":"#000","strokeWidth":2.2},"encoding":{"detail":{"field":"p"},"order":{"field":"i","type":"quantitative"}}},
   {"transform":[{"filter":"datum.l>1"}],"mark":{"type":"line","interpolate":"cardinal-closed","clip":true,"strokeWidth":0.9},"encoding":{"detail":{"field":"p"},"order":{"field":"i","type":"quantitative"},"fill":{"field":"l","type":"ordinal","scale":{"domain":[2,3,4,5,8,9],"range":["#a3a3a3","#7a7a7a","#525252","#2a2a2a","#0a0a0a","#e6e6e6"]},"legend":null},"stroke":{"field":"l","type":"ordinal","scale":{"domain":[2,3,4,5,8,9],"range":["#f2f2f2","#eeeeee","#e6e6e6","#cccccc","#000000","#ffffff"]},"legend":null}}},
   {"transform":[{"filter":"datum.k=='g'"}],"mark":{"type":"rect","filled":false,"stroke":"#2b2b2b","strokeWidth":1.3},"encoding":{"x2":{"field":"x2"},"y2":{"field":"y2"}}},
   {"transform":[{"filter":"datum.k=='v'"}],"mark":{"type":"text","align":"center","baseline":"middle","fontSize":16},"encoding":{"text":{"field":"t"}}},
   {"transform":[{"filter":"datum.k=='u'"}],"mark":{"type":"text","align":"right","baseline":"middle","fontSize":10.5},"encoding":{"text":{"field":"t"}}}
  ]},
 {"width":60,"height":1,"data":{"values":[]},"mark":"point","view":{"stroke":null}},
 {"width":1,"height":1,"data":{"values":[]},"mark":"point","view":{"stroke":null}},
 {"width":1,"height":1,"data":{"values":[]},"mark":"point","view":{"stroke":null}},
 {"width":181,"height":180,"data":{"name":"B1"},
  "title":{"text":"B","anchor":"start","frame":"group","fontSize":28,"fontWeight":"normal","font":"Liberation Sans","color":"#1a1a1a","offset":0,"dx":-78,"dy":24,"baseline":"top"},
  "resolve":{"axis":{"y":"independent"}},
  "encoding":{
   "x":{"field":"x","type":"quantitative","scale":{"domain":[-1.5,4.53],"nice":false,"zero":false},"axis":{"values":[-1.3,-1,-0.8,-0.6,-0.4,-0.1,0,0.2,0.4,0.6,0.8,0.95,1.46,1.75,1.96,2.12,2.26,2.37,2.47,2.55,2.63,3.1,3.37,3.57,3.72,3.84,3.95,4.04,4.12,4.19],"labelExpr":"datum.value==-1?'-10³':datum.value==0?'0':datum.value==0.95?'10³':datum.value==2.63?'10⁴':datum.value==4.19?'10⁵':''","tickSize":{"condition":[{"test":"datum.value==-0.1","value":4},{"test":"indexof([-1,0,0.95,2.63,4.19],datum.value)>=0","value":5}],"value":2.5},"tickWidth":{"condition":{"test":"datum.value==-0.1","value":6},"value":0.8},"tickColor":{"condition":{"test":"datum.value==-0.1","value":"#000"},"value":"#444"},"title":"───────────────── CD4 ─────────────────","titleX":195,"titleY":30,"titleAlign":"center","titleBaseline":"middle"}},
   "y":{"field":"y","type":"quantitative","scale":{"domain":[-1.45,4.55],"nice":false,"zero":false},"axis":null}
  },
  "layer":[
   {"transform":[{"filter":"datum.l==1"}],"mark":{"type":"line","interpolate":"cardinal-closed","clip":true,"fill":{"gradient":"radial","x1":0.5,"y1":0.5,"x2":0.5,"y2":0.5,"r1":0,"r2":0.6,"stops":[{"offset":0,"color":"#dadada"},{"offset":0.7,"color":"#8c8c8c"},{"offset":1,"color":"#303030"}]},"stroke":"#000","strokeWidth":2.2},"encoding":{"y":{"field":"y","type":"quantitative","scale":{"domain":[-1.45,4.55],"nice":false,"zero":false},"axis":{"orient":"left","values":[-1.28,-0.78,-0.58,-0.39,-0.2,0,0.19,0.38,0.57,0.76,1.28,1.59,1.8,1.97,2.11,2.22,2.32,2.41,2.49,2.94,3.2,3.38,3.52,3.64,3.74,3.83,3.9,3.97,4.42],"labelExpr":"datum.value==-0.78?'-10³':datum.value==0?'0':datum.value==0.76?'10³':datum.value==2.49?'10⁴':datum.value==3.97?'10⁵':''","tickSize":{"condition":[{"test":"datum.value==0","value":4},{"test":"indexof([-0.78,0.76,2.49,3.97],datum.value)>=0","value":5}],"value":2.5},"tickWidth":{"condition":{"test":"datum.value==0","value":6},"value":0.8},"tickColor":{"condition":{"test":"datum.value==0","value":"#000"},"value":"#444"},"title":null}},"detail":{"field":"p"},"order":{"field":"i","type":"quantitative"}}},
   {"transform":[{"filter":"datum.l>1"}],"mark":{"type":"line","interpolate":"cardinal-closed","clip":true,"strokeWidth":0.9},"encoding":{"detail":{"field":"p"},"order":{"field":"i","type":"quantitative"},"fill":{"field":"l","type":"ordinal","scale":{"domain":[2,3,4,5,8,9],"range":["#a3a3a3","#7a7a7a","#525252","#2a2a2a","#0a0a0a","#e6e6e6"]},"legend":null},"stroke":{"field":"l","type":"ordinal","scale":{"domain":[2,3,4,5,8,9],"range":["#f2f2f2","#eeeeee","#e6e6e6","#cccccc","#000000","#ffffff"]},"legend":null}}},
   {"transform":[{"filter":"datum.k=='g'"}],"mark":{"type":"rect","filled":false,"stroke":"#2b2b2b","strokeWidth":1.3},"encoding":{"y":{"field":"y","type":"quantitative","scale":{"domain":[-1.45,4.55],"nice":false,"zero":false},"axis":{"orient":"left","offset":42,"domain":true,"domainColor":"#4a4a4a","domainWidth":1.2,"domainDash":[70,36,80],"ticks":false,"labels":false,"title":"IL-11","titleFontSize":14,"titleX":0,"titleY":90,"titleAngle":270,"titleAlign":"center","titleBaseline":"middle"}},"x2":{"field":"x2"},"y2":{"field":"y2"}}},
   {"transform":[{"filter":"datum.k=='n'"}],"mark":{"type":"text","align":"left","baseline":"middle","fontSize":15},"encoding":{"text":{"field":"t"}}},
   {"transform":[{"filter":"datum.k=='s'"}],"mark":{"type":"text","align":"left","baseline":"middle","fontSize":12},"encoding":{"text":{"field":"t"}}},
   {"transform":[{"filter":"datum.k=='v'"}],"mark":{"type":"text","align":"center","baseline":"middle","fontSize":16},"encoding":{"text":{"field":"t"}}}
  ]},
 {"width":181,"height":180,"data":{"name":"B2"},
  "encoding":{
   "x":{"field":"x","type":"quantitative","scale":{"domain":[-1.5,4.53],"nice":false,"zero":false},"axis":{"values":[-1.3,-1,-0.8,-0.6,-0.4,-0.1,0,0.2,0.4,0.6,0.8,0.95,1.46,1.75,1.96,2.12,2.26,2.37,2.47,2.55,2.63,3.1,3.37,3.57,3.72,3.84,3.95,4.04,4.12,4.19],"labelExpr":"datum.value==-1?'-10³':datum.value==0?'0':datum.value==0.95?'10³':datum.value==2.63?'10⁴':datum.value==4.19?'10⁵':''","tickSize":{"condition":[{"test":"datum.value==-0.1","value":4},{"test":"indexof([-1,0,0.95,2.63,4.19],datum.value)>=0","value":5}],"value":2.5},"tickWidth":{"condition":{"test":"datum.value==-0.1","value":6},"value":0.8},"tickColor":{"condition":{"test":"datum.value==-0.1","value":"#000"},"value":"#444"},"title":null}},
   "y":{"field":"y","type":"quantitative","scale":{"domain":[-1.45,4.55],"nice":false,"zero":false},"axis":{"values":[-1.28,-0.78,-0.58,-0.39,-0.2,0,0.19,0.38,0.57,0.76,1.28,1.59,1.8,1.97,2.11,2.22,2.32,2.41,2.49,2.94,3.2,3.38,3.52,3.64,3.74,3.83,3.9,3.97,4.42],"labelExpr":"datum.value==-0.78?'-10³':datum.value==0?'0':datum.value==0.76?'10³':datum.value==2.49?'10⁴':datum.value==3.97?'10⁵':''","tickSize":{"condition":[{"test":"datum.value==0","value":4},{"test":"indexof([-0.78,0.76,2.49,3.97],datum.value)>=0","value":5}],"value":2.5},"tickWidth":{"condition":{"test":"datum.value==0","value":6},"value":0.8},"tickColor":{"condition":{"test":"datum.value==0","value":"#000"},"value":"#444"},"title":null}}
  },
  "layer":[
   {"transform":[{"filter":"datum.l==1"}],"mark":{"type":"line","interpolate":"cardinal-closed","clip":true,"fill":{"gradient":"radial","x1":0.5,"y1":0.5,"x2":0.5,"y2":0.5,"r1":0,"r2":0.6,"stops":[{"offset":0,"color":"#dadada"},{"offset":0.7,"color":"#8c8c8c"},{"offset":1,"color":"#303030"}]},"stroke":"#000","strokeWidth":2.2},"encoding":{"detail":{"field":"p"},"order":{"field":"i","type":"quantitative"}}},
   {"transform":[{"filter":"datum.l>1"}],"mark":{"type":"line","interpolate":"cardinal-closed","clip":true,"strokeWidth":0.9},"encoding":{"detail":{"field":"p"},"order":{"field":"i","type":"quantitative"},"fill":{"field":"l","type":"ordinal","scale":{"domain":[2,3,4,5,8,9],"range":["#a3a3a3","#7a7a7a","#525252","#2a2a2a","#0a0a0a","#e6e6e6"]},"legend":null},"stroke":{"field":"l","type":"ordinal","scale":{"domain":[2,3,4,5,8,9],"range":["#f2f2f2","#eeeeee","#e6e6e6","#cccccc","#000000","#ffffff"]},"legend":null}}},
   {"transform":[{"filter":"datum.k=='g'"}],"mark":{"type":"rect","filled":false,"stroke":"#2b2b2b","strokeWidth":1.3},"encoding":{"x2":{"field":"x2"},"y2":{"field":"y2"}}},
   {"transform":[{"filter":"datum.k=='v'"}],"mark":{"type":"text","align":"center","baseline":"middle","fontSize":16},"encoding":{"text":{"field":"t"}}},
   {"transform":[{"filter":"datum.k=='u'"}],"mark":{"type":"text","align":"right","baseline":"middle","fontSize":10.5},"encoding":{"text":{"field":"t"}}}
  ]},
 {"width":60,"height":1,"data":{"values":[]},"mark":"point","view":{"stroke":null}},
 {"width":181,"height":180,"data":{"name":"B3"},
  "resolve":{"axis":{"y":"independent"}},
  "encoding":{
   "x":{"field":"x","type":"quantitative","scale":{"domain":[-1.5,4.53],"nice":false,"zero":false},"axis":{"values":[-1.3,-1,-0.8,-0.6,-0.4,-0.1,0,0.2,0.4,0.6,0.8,0.95,1.46,1.75,1.96,2.12,2.26,2.37,2.47,2.55,2.63,3.1,3.37,3.57,3.72,3.84,3.95,4.04,4.12,4.19],"labelExpr":"datum.value==-1?'-10³':datum.value==0?'0':datum.value==0.95?'10³':datum.value==2.63?'10⁴':datum.value==4.19?'10⁵':''","tickSize":{"condition":[{"test":"datum.value==-0.1","value":4},{"test":"indexof([-1,0,0.95,2.63,4.19],datum.value)>=0","value":5}],"value":2.5},"tickWidth":{"condition":{"test":"datum.value==-0.1","value":6},"value":0.8},"tickColor":{"condition":{"test":"datum.value==-0.1","value":"#000"},"value":"#444"},"title":"──────────────── CD4 ────────────────","titleX":193,"titleY":30,"titleAlign":"center","titleBaseline":"middle"}},
   "y":{"field":"y","type":"quantitative","scale":{"domain":[-1.25,4.75],"nice":false,"zero":false},"axis":null}
  },
  "layer":[
   {"transform":[{"filter":"datum.l==1"}],"mark":{"type":"line","interpolate":"cardinal-closed","clip":true,"fill":{"gradient":"radial","x1":0.5,"y1":0.5,"x2":0.5,"y2":0.5,"r1":0,"r2":0.6,"stops":[{"offset":0,"color":"#dadada"},{"offset":0.7,"color":"#8c8c8c"},{"offset":1,"color":"#303030"}]},"stroke":"#000","strokeWidth":2.2},"encoding":{"y":{"field":"y","type":"quantitative","scale":{"domain":[-1.25,4.75],"nice":false,"zero":false},"axis":{"orient":"left","values":[-1.2,-1,-0.8,-0.6,-0.4,-0.15,0,0.15,0.4,0.6,0.8,1,1.2,1.4,1.6,2,2.24,2.41,2.54,2.64,2.73,2.81,2.88,2.94,3.34,3.57,3.74,3.87,3.97,4.06,4.14,4.21,4.27,4.67],"labelExpr":"datum.value==0?'0':datum.value==1.6?'10³':datum.value==2.94?'10⁴':datum.value==4.27?'10⁵':''","tickSize":{"condition":[{"test":"abs(datum.value)<0.2","value":4},{"test":"indexof([1.6,2.94,4.27],datum.value)>=0","value":5}],"value":2.5},"tickWidth":{"condition":{"test":"abs(datum.value)<0.2","value":5},"value":0.8},"tickColor":{"condition":{"test":"abs(datum.value)<0.2","value":"#000"},"value":"#444"},"title":null}},"detail":{"field":"p"},"order":{"field":"i","type":"quantitative"}}},
   {"transform":[{"filter":"datum.l>1"}],"mark":{"type":"line","interpolate":"cardinal-closed","clip":true,"strokeWidth":0.9},"encoding":{"detail":{"field":"p"},"order":{"field":"i","type":"quantitative"},"fill":{"field":"l","type":"ordinal","scale":{"domain":[2,3,4,5,8,9],"range":["#a3a3a3","#7a7a7a","#525252","#2a2a2a","#0a0a0a","#e6e6e6"]},"legend":null},"stroke":{"field":"l","type":"ordinal","scale":{"domain":[2,3,4,5,8,9],"range":["#f2f2f2","#eeeeee","#e6e6e6","#cccccc","#000000","#ffffff"]},"legend":null}}},
   {"transform":[{"filter":"datum.k=='g'"}],"mark":{"type":"rect","filled":false,"stroke":"#2b2b2b","strokeWidth":1.3},"encoding":{"y":{"field":"y","type":"quantitative","scale":{"domain":[-1.25,4.75],"nice":false,"zero":false},"axis":{"orient":"left","offset":30,"domain":true,"domainColor":"#4a4a4a","domainWidth":1.2,"domainDash":[62,46,72],"ticks":false,"labels":false,"title":"IL-11R","titleFontSize":14,"titleX":0,"titleY":94,"titleAngle":270,"titleAlign":"center","titleBaseline":"middle"}},"x2":{"field":"x2"},"y2":{"field":"y2"}}},
   {"transform":[{"filter":"datum.k=='n'"}],"mark":{"type":"text","align":"left","baseline":"middle","fontSize":15},"encoding":{"text":{"field":"t"}}},
   {"transform":[{"filter":"datum.k=='s'"}],"mark":{"type":"text","align":"left","baseline":"middle","fontSize":12},"encoding":{"text":{"field":"t"}}},
   {"transform":[{"filter":"datum.k=='v'"}],"mark":{"type":"text","align":"center","baseline":"middle","fontSize":16},"encoding":{"text":{"field":"t"}}}
  ]},
 {"width":172,"height":180,"data":{"name":"B4"},
  "encoding":{
   "x":{"field":"x","type":"quantitative","scale":{"domain":[-1.5,4.233],"nice":false,"zero":false},"axis":{"values":[-1.3,-1,-0.8,-0.6,-0.4,-0.1,0,0.2,0.4,0.6,0.8,0.95,1.46,1.75,1.96,2.12,2.26,2.37,2.47,2.55,2.63,3.1,3.37,3.57,3.72,3.84,3.95,4.04,4.12,4.19],"labelExpr":"datum.value==-1?'-10³':datum.value==0?'0':datum.value==0.95?'10³':datum.value==2.63?'10⁴':''","tickSize":{"condition":[{"test":"datum.value==-0.1","value":4},{"test":"indexof([-1,0,0.95,2.63,4.19],datum.value)>=0","value":5}],"value":2.5},"tickWidth":{"condition":{"test":"datum.value==-0.1","value":6},"value":0.8},"tickColor":{"condition":{"test":"datum.value==-0.1","value":"#000"},"value":"#444"},"title":null}},
   "y":{"field":"y","type":"quantitative","scale":{"domain":[-1.25,4.75],"nice":false,"zero":false},"axis":{"values":[-1.2,-1,-0.8,-0.6,-0.4,-0.15,0,0.15,0.4,0.6,0.8,1,1.2,1.4,1.6,2,2.24,2.41,2.54,2.64,2.73,2.81,2.88,2.94,3.34,3.57,3.74,3.87,3.97,4.06,4.14,4.21,4.27,4.67],"labelExpr":"datum.value==0?'0':datum.value==1.6?'10³':datum.value==2.94?'10⁴':datum.value==4.27?'10⁵':''","tickSize":{"condition":[{"test":"abs(datum.value)<0.2","value":4},{"test":"indexof([1.6,2.94,4.27],datum.value)>=0","value":5}],"value":2.5},"tickWidth":{"condition":{"test":"abs(datum.value)<0.2","value":5},"value":0.8},"tickColor":{"condition":{"test":"abs(datum.value)<0.2","value":"#000"},"value":"#444"},"title":null}}
  },
  "layer":[
   {"transform":[{"filter":"datum.l==1"}],"mark":{"type":"line","interpolate":"cardinal-closed","clip":true,"fill":{"gradient":"radial","x1":0.5,"y1":0.5,"x2":0.5,"y2":0.5,"r1":0,"r2":0.6,"stops":[{"offset":0,"color":"#dadada"},{"offset":0.7,"color":"#8c8c8c"},{"offset":1,"color":"#303030"}]},"stroke":"#000","strokeWidth":2.2},"encoding":{"detail":{"field":"p"},"order":{"field":"i","type":"quantitative"}}},
   {"transform":[{"filter":"datum.l>1"}],"mark":{"type":"line","interpolate":"cardinal-closed","clip":true,"strokeWidth":0.9},"encoding":{"detail":{"field":"p"},"order":{"field":"i","type":"quantitative"},"fill":{"field":"l","type":"ordinal","scale":{"domain":[2,3,4,5,8,9],"range":["#a3a3a3","#7a7a7a","#525252","#2a2a2a","#0a0a0a","#e6e6e6"]},"legend":null},"stroke":{"field":"l","type":"ordinal","scale":{"domain":[2,3,4,5,8,9],"range":["#f2f2f2","#eeeeee","#e6e6e6","#cccccc","#000000","#ffffff"]},"legend":null}}},
   {"transform":[{"filter":"datum.k=='g'"}],"mark":{"type":"rect","filled":false,"stroke":"#2b2b2b","strokeWidth":1.3},"encoding":{"x2":{"field":"x2"},"y2":{"field":"y2"}}},
   {"transform":[{"filter":"datum.k=='v'"}],"mark":{"type":"text","align":"center","baseline":"middle","fontSize":16},"encoding":{"text":{"field":"t"}}},
   {"transform":[{"filter":"datum.k=='w'"}],"mark":{"type":"text","align":"left","baseline":"middle","fontSize":10.5,"clip":true},"encoding":{"text":{"field":"t"}}}
  ]},
 {"width":181,"height":180,"data":{"name":"C1"},
  "title":{"text":"C","anchor":"start","frame":"group","fontSize":28,"fontWeight":"normal","font":"Liberation Sans","color":"#1a1a1a","offset":0,"dx":-65,"dy":39,"baseline":"top"},
  "resolve":{"axis":{"y":"independent"}},
  "encoding":{
   "x":{"field":"x","type":"quantitative","scale":{"domain":[-1.5,4.53],"nice":false,"zero":false},"axis":{"values":[-1.3,-1,-0.8,-0.6,-0.4,-0.1,0,0.2,0.4,0.6,0.8,0.95,1.46,1.75,1.96,2.12,2.26,2.37,2.47,2.55,2.63,3.1,3.37,3.57,3.72,3.84,3.95,4.04,4.12,4.19],"labelExpr":"datum.value==-1?'-10³':datum.value==0?'0':datum.value==0.95?'10³':datum.value==2.63?'10⁴':datum.value==4.19?'10⁵':''","tickSize":{"condition":[{"test":"datum.value==-0.1","value":4},{"test":"indexof([-1,0,0.95,2.63,4.19],datum.value)>=0","value":5}],"value":2.5},"tickWidth":{"condition":{"test":"datum.value==-0.1","value":6},"value":0.8},"tickColor":{"condition":{"test":"datum.value==-0.1","value":"#000"},"value":"#444"},"title":"─────────────── CD66b ───────────────","titleX":188,"titleY":28,"titleAlign":"center","titleBaseline":"middle"}},
   "y":{"field":"y","type":"quantitative","scale":{"domain":[-1.45,4.55],"nice":false,"zero":false},"axis":null}
  },
  "layer":[
   {"transform":[{"filter":"datum.l==1"}],"mark":{"type":"line","interpolate":"cardinal-closed","clip":true,"fill":{"gradient":"radial","x1":0.5,"y1":0.5,"x2":0.5,"y2":0.5,"r1":0,"r2":0.6,"stops":[{"offset":0,"color":"#dadada"},{"offset":0.7,"color":"#8c8c8c"},{"offset":1,"color":"#303030"}]},"stroke":"#000","strokeWidth":2.2},"encoding":{"y":{"field":"y","type":"quantitative","scale":{"domain":[-1.45,4.55],"nice":false,"zero":false},"axis":{"orient":"left","values":[-1.28,-0.78,-0.58,-0.39,-0.2,0,0.19,0.38,0.57,0.76,1.28,1.59,1.8,1.97,2.11,2.22,2.32,2.41,2.49,2.94,3.2,3.38,3.52,3.64,3.74,3.83,3.9,3.97,4.42],"labelExpr":"datum.value==-0.78?'-10³':datum.value==0?'0':datum.value==0.76?'10³':datum.value==2.49?'10⁴':datum.value==3.97?'10⁵':''","tickSize":{"condition":[{"test":"datum.value==0","value":4},{"test":"indexof([-0.78,0.76,2.49,3.97],datum.value)>=0","value":5}],"value":2.5},"tickWidth":{"condition":{"test":"datum.value==0","value":6},"value":0.8},"tickColor":{"condition":{"test":"datum.value==0","value":"#000"},"value":"#444"},"title":null}},"detail":{"field":"p"},"order":{"field":"i","type":"quantitative"}}},
   {"transform":[{"filter":"datum.l>1"}],"mark":{"type":"line","interpolate":"cardinal-closed","clip":true,"strokeWidth":0.9},"encoding":{"detail":{"field":"p"},"order":{"field":"i","type":"quantitative"},"fill":{"field":"l","type":"ordinal","scale":{"domain":[2,3,4,5,8,9],"range":["#a3a3a3","#7a7a7a","#525252","#2a2a2a","#0a0a0a","#e6e6e6"]},"legend":null},"stroke":{"field":"l","type":"ordinal","scale":{"domain":[2,3,4,5,8,9],"range":["#f2f2f2","#eeeeee","#e6e6e6","#cccccc","#000000","#ffffff"]},"legend":null}}},
   {"transform":[{"filter":"datum.k=='g'"}],"mark":{"type":"rect","filled":false,"stroke":"#2b2b2b","strokeWidth":1.3},"encoding":{"y":{"field":"y","type":"quantitative","scale":{"domain":[-1.45,4.55],"nice":false,"zero":false},"axis":{"orient":"left","offset":42,"domain":true,"domainColor":"#4a4a4a","domainWidth":1.2,"domainDash":[70,36,80],"ticks":false,"labels":false,"title":"IL-11","titleFontSize":14,"titleX":0,"titleY":90,"titleAngle":270,"titleAlign":"center","titleBaseline":"middle"}},"x2":{"field":"x2"},"y2":{"field":"y2"}}},
   {"transform":[{"filter":"datum.k=='n'"}],"mark":{"type":"text","align":"left","baseline":"middle","fontSize":15},"encoding":{"text":{"field":"t"}}},
   {"transform":[{"filter":"datum.k=='s'"}],"mark":{"type":"text","align":"left","baseline":"middle","fontSize":12},"encoding":{"text":{"field":"t"}}},
   {"transform":[{"filter":"datum.k=='v'"}],"mark":{"type":"text","align":"center","baseline":"middle","fontSize":16},"encoding":{"text":{"field":"t"}}}
  ]},
 {"width":181,"height":180,"data":{"name":"C2"},
  "encoding":{
   "x":{"field":"x","type":"quantitative","scale":{"domain":[-1.5,4.53],"nice":false,"zero":false},"axis":{"values":[-1.3,-1,-0.8,-0.6,-0.4,-0.1,0,0.2,0.4,0.6,0.8,0.95,1.46,1.75,1.96,2.12,2.26,2.37,2.47,2.55,2.63,3.1,3.37,3.57,3.72,3.84,3.95,4.04,4.12,4.19],"labelExpr":"datum.value==-1?'-10³':datum.value==0?'0':datum.value==0.95?'10³':datum.value==2.63?'10⁴':datum.value==4.19?'10⁵':''","tickSize":{"condition":[{"test":"datum.value==-0.1","value":4},{"test":"indexof([-1,0,0.95,2.63,4.19],datum.value)>=0","value":5}],"value":2.5},"tickWidth":{"condition":{"test":"datum.value==-0.1","value":6},"value":0.8},"tickColor":{"condition":{"test":"datum.value==-0.1","value":"#000"},"value":"#444"},"title":null}},
   "y":{"field":"y","type":"quantitative","scale":{"domain":[-1.45,4.55],"nice":false,"zero":false},"axis":{"values":[-1.28,-0.78,-0.58,-0.39,-0.2,0,0.19,0.38,0.57,0.76,1.28,1.59,1.8,1.97,2.11,2.22,2.32,2.41,2.49,2.94,3.2,3.38,3.52,3.64,3.74,3.83,3.9,3.97,4.42],"labelExpr":"datum.value==-0.78?'-10³':datum.value==0?'0':datum.value==0.76?'10³':datum.value==2.49?'10⁴':datum.value==3.97?'10⁵':''","tickSize":{"condition":[{"test":"datum.value==0","value":4},{"test":"indexof([-0.78,0.76,2.49,3.97],datum.value)>=0","value":5}],"value":2.5},"tickWidth":{"condition":{"test":"datum.value==0","value":6},"value":0.8},"tickColor":{"condition":{"test":"datum.value==0","value":"#000"},"value":"#444"},"title":null}}
  },
  "layer":[
   {"transform":[{"filter":"datum.l==1"}],"mark":{"type":"line","interpolate":"cardinal-closed","clip":true,"fill":{"gradient":"radial","x1":0.5,"y1":0.5,"x2":0.5,"y2":0.5,"r1":0,"r2":0.6,"stops":[{"offset":0,"color":"#dadada"},{"offset":0.7,"color":"#8c8c8c"},{"offset":1,"color":"#303030"}]},"stroke":"#000","strokeWidth":2.2},"encoding":{"detail":{"field":"p"},"order":{"field":"i","type":"quantitative"}}},
   {"transform":[{"filter":"datum.l>1"}],"mark":{"type":"line","interpolate":"cardinal-closed","clip":true,"strokeWidth":0.9},"encoding":{"detail":{"field":"p"},"order":{"field":"i","type":"quantitative"},"fill":{"field":"l","type":"ordinal","scale":{"domain":[2,3,4,5,8,9],"range":["#a3a3a3","#7a7a7a","#525252","#2a2a2a","#0a0a0a","#e6e6e6"]},"legend":null},"stroke":{"field":"l","type":"ordinal","scale":{"domain":[2,3,4,5,8,9],"range":["#f2f2f2","#eeeeee","#e6e6e6","#cccccc","#000000","#ffffff"]},"legend":null}}},
   {"transform":[{"filter":"datum.k=='g'"}],"mark":{"type":"rect","filled":false,"stroke":"#2b2b2b","strokeWidth":1.3},"encoding":{"x2":{"field":"x2"},"y2":{"field":"y2"}}},
   {"transform":[{"filter":"datum.k=='v'"}],"mark":{"type":"text","align":"center","baseline":"middle","fontSize":16},"encoding":{"text":{"field":"t"}}},
   {"transform":[{"filter":"datum.k=='u'"}],"mark":{"type":"text","align":"right","baseline":"middle","fontSize":10.5},"encoding":{"text":{"field":"t"}}}
  ]},
 {"width":60,"height":1,"data":{"values":[]},"mark":"point","view":{"stroke":null}},
 {"width":1,"height":1,"data":{"values":[]},"mark":"point","view":{"stroke":null}},
 {"width":1,"height":1,"data":{"values":[]},"mark":"point","view":{"stroke":null}}
],
"columns":5,
"spacing":{"row":68.5,"column":27},
"align":"each",
"bounds":"flush"
}
